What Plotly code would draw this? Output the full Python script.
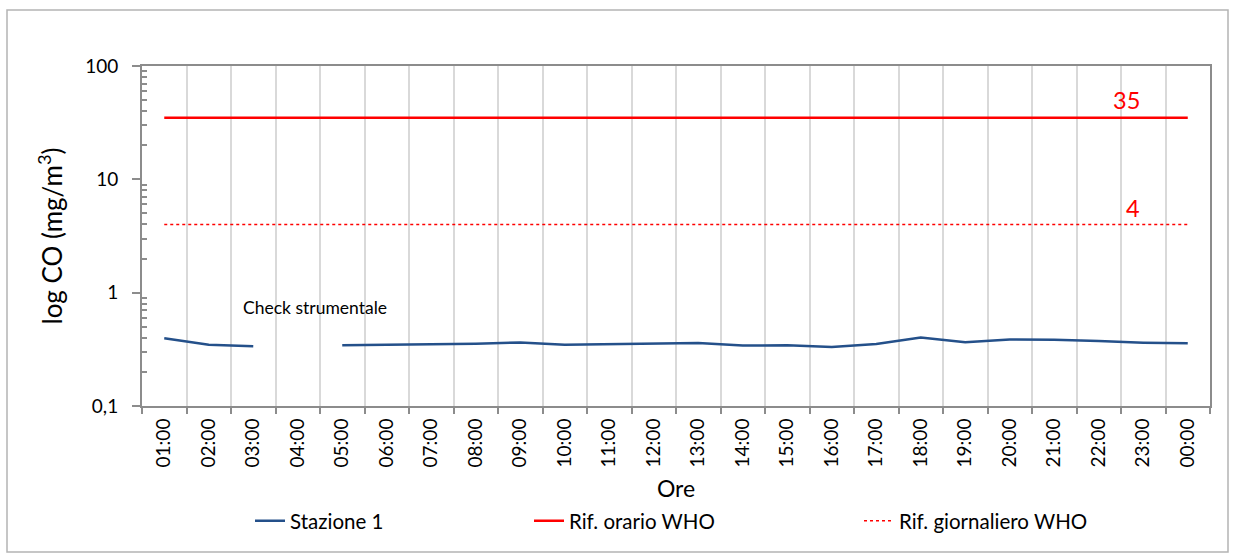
import plotly.graph_objects as go

hours = ["01:00", "02:00", "03:00", "04:00", "05:00", "06:00", "07:00", "08:00",
         "09:00", "10:00", "11:00", "12:00", "13:00", "14:00", "15:00", "16:00",
         "17:00", "18:00", "19:00", "20:00", "21:00", "22:00", "23:00", "00:00"]
stazione1 = [0.397, 0.347, 0.336, None, 0.343, 0.345, 0.350, 0.355,
             0.364, 0.347, 0.350, 0.354, 0.359, 0.341, 0.343, 0.331,
             0.352, 0.403, 0.366, 0.387, 0.385, 0.374, 0.362, 0.357]
rif_orario = [35] * len(hours)
rif_giornaliero = [4] * len(hours)

y_tickvals = [0.1, 1, 10, 100]
y_ticktext = ["0,1", "1", "10", "100"]
y_minor = [m * d for d in (0.1, 1, 10) for m in range(2, 10)]

FONT = "Lato"
AX = "#8c8c8c"

fig = go.Figure()
fig.add_trace(go.Scatter(x=hours, y=stazione1, mode="lines", name="Stazione 1",
                         line=dict(color="#24508a", width=2.5), legend="legend"))
fig.add_trace(go.Scatter(x=hours, y=rif_orario, mode="lines", name="Rif. orario WHO",
                         line=dict(color="#ff0000", width=2.5), legend="legend2"))
fig.add_trace(go.Scatter(x=hours, y=rif_giornaliero, mode="lines", name="Rif. giornaliero WHO",
                         line=dict(color="#ff0000", width=1.5, dash="dot"), legend="legend3"))

leg_common = dict(orientation="h", yanchor="middle", y=-0.338, xanchor="left",
                  font=dict(family=FONT, size=20.5, color="#000000"),
                  bgcolor="rgba(0,0,0,0)")
fig.update_layout(
    width=1235, height=557,
    margin=dict(l=142, r=25, t=66, b=151),
    paper_bgcolor="white", plot_bgcolor="white",
    font=dict(family=FONT, size=18, color="#000000"),
    legend=dict(x=(250 - 142) / 1068, **leg_common),
    legend2=dict(x=(529 - 142) / 1068, **leg_common),
    legend3=dict(x=(859 - 142) / 1068, **leg_common),
    xaxis=dict(type="category", range=[-0.5, 23.5], tickson="boundaries",
               ticks="outside", ticklen=6, tickwidth=1.5, tickcolor=AX,
               showline=True, linecolor=AX, linewidth=2, mirror=True,
               showgrid=True, gridcolor="#d9d9d9", gridwidth=1.5,
               tickangle=-90, tickfont=dict(family=FONT, size=19), ticklabelstandoff=3,
               title=dict(text="Ore", font=dict(family=FONT, size=23), standoff=14)),
    yaxis=dict(type="log", range=[-1, 2], tickvals=y_tickvals, ticktext=y_ticktext,
               ticks="outside", ticklen=8, tickwidth=1.5, tickcolor=AX,
               showline=True, linecolor=AX, linewidth=2, mirror=True,
               showgrid=False, zeroline=False,
               minor=dict(tickvals=y_minor, ticks="inside", ticklen=5, tickwidth=1.5,
                          tickcolor=AX, showgrid=False),
               tickfont=dict(family=FONT, size=19), ticklabelstandoff=10,
               title=dict(text="log CO (mg/m<sup>3</sup>)", font=dict(family=FONT, size=26),
                          standoff=15)),
    showlegend=True,
)

fig.add_annotation(text="Check strumentale", xref="paper", yref="y", xanchor="center",
                   x=(315 - 142) / 1068, y=-0.130, showarrow=False,
                   font=dict(family=FONT, size=17.5, color="#000000"))
fig.add_annotation(text="35", xref="paper", yref="y", xanchor="center",
                   x=(1126 - 142) / 1068, y=1.702, showarrow=False,
                   font=dict(family=FONT, size=23.5, color="#ff0000"))
fig.add_annotation(text="4", xref="paper", yref="y", xanchor="center",
                   x=(1133 - 142) / 1068, y=0.751, showarrow=False,
                   font=dict(family=FONT, size=23.5, color="#ff0000"))

fig.add_shape(type="rect", xref="paper", yref="paper",
              x0=(7 - 142) / 1068, x1=(1228 - 142) / 1068,
              y0=(406 - 552) / 340, y1=(406 - 10) / 340,
              line=dict(color="#b4b4b4", width=1.5), fillcolor="rgba(0,0,0,0)", layer="below")

fig.write_html("out.html", config={"displayModeBar": False},
               post_script="document.body.style.margin='0';document.body.style.overflow='hidden';")
